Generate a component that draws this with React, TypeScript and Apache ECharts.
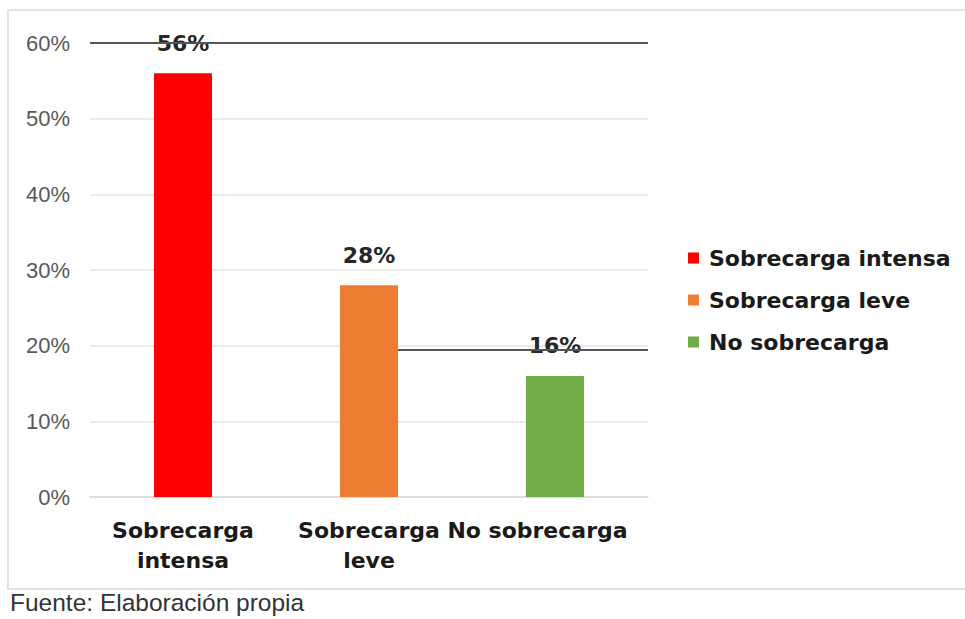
import React, { useEffect, useRef } from "react";
import * as echarts from "echarts";

const categories = ["Sobrecarga\nintensa", "Sobrecarga\nleve", "No sobrecarga"];
const seriesNames = ["Sobrecarga intensa", "Sobrecarga leve", "No sobrecarga"];
const values = [56, 28, 16];
const colors = ["#ff0000", "#ed7d31", "#70ad47"];
const yTicks = [0, 10, 20, 30, 40, 50, 60];
const strikeLevels = [60, 19.4];
const source = "Fuente: Elaboración propia";

export default function App() {
  const ref = useRef<HTMLDivElement>(null);
  useEffect(() => {
    if (!ref.current) return;
    const chart = echarts.init(ref.current, null, { renderer: "svg" });
    const font = "'Liberation Sans', Arial, sans-serif";
    const boldFont = "'DejaVu Sans', 'Liberation Sans', sans-serif";
    const boldStyle = {
      color: "#1a1a1a",
      fontFamily: boldFont,
      fontWeight: "bold",
      fontSize: 22,
      lineHeight: 30,
    };
    const series: any[] = seriesNames.map((name, i) => ({
      name,
      type: "bar",
      barWidth: 58,
      barGap: "-100%",
      itemStyle: { color: colors[i] },
      label: {
        show: true,
        position: "top",
        distance: 19,
        formatter: (p: any) => p.value + "%",
        color: "#262626",
        fontFamily: boldFont,
        fontWeight: "bold",
        fontSize: 22,
      },
      data: categories.map((_, j) => (j === i ? values[i] : "-")),
    }));
    series[0].markLine = {
      silent: true,
      symbol: "none",
      label: { show: false },
      lineStyle: { color: "#555555", width: 2, type: "solid" },
      data: [{ yAxis: strikeLevels[0] }],
    };
    series[1].markLine = {
      silent: true,
      symbol: "none",
      label: { show: false },
      lineStyle: { color: "#555555", width: 2, type: "solid" },
      data: [[{ coord: [1, strikeLevels[1]], x: 398 }, { coord: [2, strikeLevels[1]], x: 648 }]],
    };
    chart.setOption({
      animation: false,
      backgroundColor: "#ffffff",
      grid: { left: 90, right: 317, top: 43, bottom: 122 },
      xAxis: {
        type: "category",
        data: categories,
        axisTick: { show: false },
        axisLine: { lineStyle: { color: "#d9d9d9", width: 1.5 } },
        axisLabel: {
          ...boldStyle,
          margin: 18,
          interval: 0,
          formatter: (v: string, idx: number) =>
            idx === categories.length - 1 ? "{last|" + v + "}" : v,
          rich: {
            last: { ...boldStyle, padding: [0, 35, 0, 0] },
          },
        },
      },
      yAxis: {
        type: "value",
        min: 0,
        max: 60,
        interval: 10,
        axisLine: { show: false },
        axisTick: { show: false },
        splitLine: { lineStyle: { color: "#e3e3e3", width: 1.5 } },
        axisLabel: {
          formatter: (v: number) => (yTicks.includes(v) ? v + "%" : ""),
          color: "#595959",
          fontFamily: font,
          fontSize: 22,
          margin: 20,
        },
      },
      legend: {
        orient: "vertical",
        left: 683,
        top: 242,
        itemWidth: 11,
        itemHeight: 11,
        itemGap: 20,
        icon: "rect",
        textStyle: {
          color: "#1a1a1a",
          fontFamily: boldFont,
          fontWeight: "bold",
          fontSize: 22,
          padding: [0, 0, 0, 5],
        },
        data: seriesNames,
      },
      graphic: [
        {
          type: "rect",
          silent: true,
          z: -1,
          shape: { x: 8, y: 10, width: 960, height: 579 },
          style: { fill: "none", stroke: "#d9d9d9", lineWidth: 1.5 },
        },
        {
          type: "text",
          left: 10,
          top: 590,
          style: { text: source, fill: "#333333", font: `24.5px ${font}` },
        },
      ],
      series,
    });
    return () => chart.dispose();
  }, []);
  return (
    <div
      ref={ref}
      style={{ position: "fixed", left: 0, top: 0, width: 965, height: 619 }}
    />
  );
}
